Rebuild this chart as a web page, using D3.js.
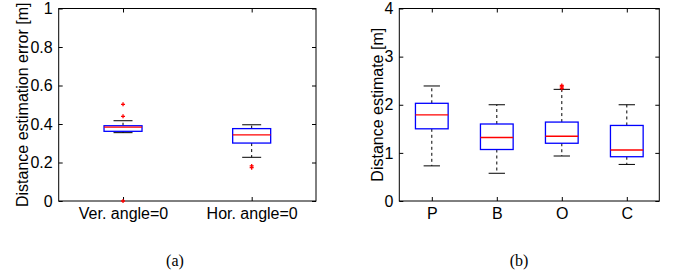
<!DOCTYPE html>
<html>
<head>
<meta charset="utf-8">
<script src="https://cdn.jsdelivr.net/npm/d3@7"></script>
<style>
  body { margin: 0; background: #fff; }
  svg text { font-family: "Liberation Sans", Arial, sans-serif; }
</style>
</head>
<body>
<script>
// panel (a)
var catsA = ['Ver. angle=0', 'Hor. angle=0'];
var lowA = [0.355, 0.227];
var q1A = [0.362, 0.301];
var medA = [0.384, 0.343];
var q3A = [0.391, 0.376];
var highA = [0.417, 0.396];
var outA = [[0.502, 0.44, 0], [0.182, 0.173]];
var ticksA = [0, 0.2, 0.4, 0.6, 0.8, 1];

// panel (b)
var catsB = ['P', 'B', 'O', 'C'];
var lowB = [0.73, 0.576, 0.935, 0.76];
var q1B = [1.5, 1.07, 1.2, 0.92];
var medB = [1.79, 1.32, 1.345, 1.06];
var q3B = [2.03, 1.6, 1.64, 1.57];
var highB = [2.39, 2.0, 2.32, 2.0];
var outB = [[], [], [2.34, 2.37, 2.40], []];
var ticksB = [0, 1, 2, 3, 4];

var svg = d3.select("body").append("svg").attr("width", 678).attr("height", 278);

function panel(opt) {
    var x = d3.scaleLinear().domain([0.5, opt.cats.length + 0.5]).range([opt.left, opt.right]);
    var y = d3.scaleLinear().domain(opt.domain).range([201, 8.5]);
    var g = svg.append("g");

    // frame
    g.append("rect")
        .attr("x", opt.left).attr("y", 8.5)
        .attr("width", opt.right - opt.left).attr("height", 201 - 8.5)
        .attr("fill", "none").attr("stroke", "#000").attr("stroke-width", 1);

    var xTicks = opt.cats.map(function (d, i) { return i + 1; });

    g.append("g").attr("transform", "translate(0,201)")
        .call(d3.axisBottom(x).tickValues(xTicks).tickFormat(function (d) { return opt.cats[d - 1]; })
            .tickSizeInner(-4).tickSizeOuter(0).tickPadding(7));
    g.append("g").attr("transform", "translate(0,8.5)")
        .call(d3.axisTop(x).tickValues(xTicks).tickFormat("").tickSizeInner(-4).tickSizeOuter(0));
    g.append("g").attr("transform", "translate(" + opt.left + ",0)")
        .call(d3.axisLeft(y).tickValues(opt.ticks).tickFormat(d3.format("~g"))
            .tickSizeInner(-4).tickSizeOuter(0).tickPadding(6));
    g.append("g").attr("transform", "translate(" + opt.right + ",0)")
        .call(d3.axisRight(y).tickValues(opt.ticks).tickFormat("").tickSizeInner(-4).tickSizeOuter(0));

    g.selectAll(".domain").remove();
    g.selectAll(".tick line").attr("stroke", "#000");
    g.selectAll(".tick text").attr("font-size", 16).attr("fill", "#000");

    var half = opt.boxW / 2;
    opt.cats.forEach(function (c, i) {
        var cx = x(i + 1);
        // whiskers
        g.append("line").attr("x1", cx).attr("x2", cx).attr("y1", y(opt.q3[i])).attr("y2", y(opt.high[i]))
            .attr("stroke", "#000").attr("stroke-dasharray", "3,3");
        g.append("line").attr("x1", cx).attr("x2", cx).attr("y1", y(opt.q1[i])).attr("y2", y(opt.low[i]))
            .attr("stroke", "#000").attr("stroke-dasharray", "3,3");
        // caps
        [opt.high[i], opt.low[i]].forEach(function (v) {
            g.append("line").attr("x1", cx - half / 2).attr("x2", cx + half / 2)
                .attr("y1", y(v)).attr("y2", y(v)).attr("stroke", "#000");
        });
        // box
        g.append("rect").attr("x", cx - half).attr("y", y(opt.q3[i]))
            .attr("width", opt.boxW).attr("height", y(opt.q1[i]) - y(opt.q3[i]))
            .attr("fill", "none").attr("stroke", "#0000ff").attr("stroke-width", 1.3);
        // median
        g.append("line").attr("x1", cx - half).attr("x2", cx + half)
            .attr("y1", y(opt.med[i])).attr("y2", y(opt.med[i]))
            .attr("stroke", "#ff0000").attr("stroke-width", 1.3);
        // outliers
        opt.out[i].forEach(function (v) {
            var py = y(v);
            g.append("path").attr("d", "M" + (cx - 2) + "," + py + "H" + (cx + 2) + "M" + cx + "," + (py - 2) + "V" + (py + 2))
                .attr("stroke", "#ff0000").attr("stroke-width", 1.3);
        });
    });

    g.append("text")
        .attr("transform", "translate(" + opt.labelX + "," + ((8.5 + 201) / 2) + ") rotate(-90)")
        .attr("text-anchor", "middle").attr("font-size", 16)
        .text(opt.ylabel);

    g.append("text")
        .attr("x", opt.capX).attr("y", 266)
        .attr("text-anchor", "middle").attr("font-size", 16)
        .style("font-family", "'Liberation Serif', 'Times New Roman', serif")
        .text(opt.caption);
}

panel({
    cats: catsA, low: lowA, q1: q1A, med: medA, q3: q3A, high: highA, out: outA,
    ticks: ticksA, domain: [0, 1], left: 58.7, right: 316, boxW: 38,
    ylabel: "Distance estimation error [m]", labelX: 28, caption: "(a)", capX: 175
});

panel({
    cats: catsB, low: lowB, q1: q1B, med: medB, q3: q3B, high: highB, out: outB,
    ticks: ticksB, domain: [0, 4], left: 399.3, right: 659.3, boxW: 32.7,
    ylabel: "Distance estimate [m]", labelX: 383, caption: "(b)", capX: 519
});
</script>
</body>
</html>
